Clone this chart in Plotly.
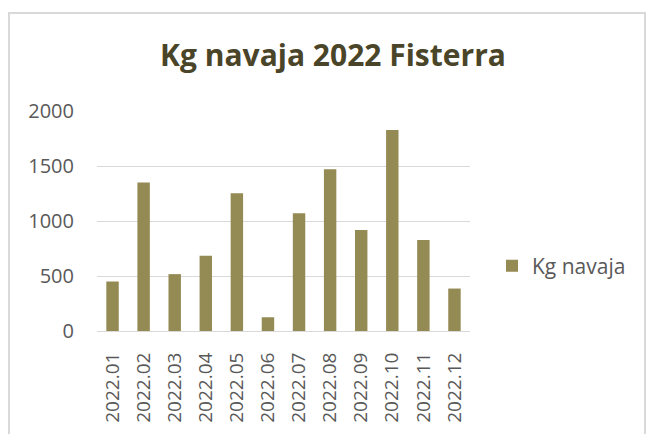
import plotly.graph_objects as go

months = ["2022.01", "2022.02", "2022.03", "2022.04", "2022.05", "2022.06",
          "2022.07", "2022.08", "2022.09", "2022.10", "2022.11", "2022.12"]
kg_navaja = [450, 1349, 517, 684, 1252, 125, 1070, 1471, 918, 1827, 827, 386]
y_ticks = [0, 500, 1000, 1500, 2000]
series_name = "Kg navaja"
title_text = "Kg navaja 2022 Fisterra"

OFF = 8  # browser body margin
W, H = 654 - 2 * OFF, 442 - 2 * OFF
L, R, T, B = 97 - OFF, 470 - OFF, 111 - OFF, 331 - OFF  # plot area in figure pixels


def px(xp):  # screen x -> paper
    return (xp - OFF - L) / (R - L)


def py(yp):  # screen y -> paper
    return (B - (yp - OFF)) / (B - T)


FONT = "Open Sans"
GRAY = "#595959"

fig = go.Figure()
fig.add_trace(go.Bar(
    x=months, y=kg_navaja, name=series_name,
    marker=dict(color="#948A54", line=dict(width=0)),
))

fig.update_layout(
    width=W, height=H,
    margin=dict(l=L, r=W - R, t=T, b=H - B, autoexpand=False),
    paper_bgcolor="white", plot_bgcolor="white",
    bargap=0.6,
    showlegend=True,
    title=dict(text="<b>" + title_text + "</b>", x=px(333), xref="paper", xanchor="center",
               y=1 - (55 - OFF) / H, yanchor="middle",
               font=dict(family=FONT, size=30, color="#4A4528")),
    legend=dict(x=px(492), y=py(266), xanchor="left", yanchor="middle",
                font=dict(family=FONT, size=21, color=GRAY),
                itemwidth=30, bgcolor="rgba(0,0,0,0)"),
    xaxis=dict(tickangle=-90, tickfont=dict(family=FONT, size=19, color=GRAY),
               showgrid=False, showline=True, linecolor="#D9D9D9", linewidth=1,
               ticks="", ticklabelstandoff=13),
    yaxis=dict(range=[0, 2000], tickvals=y_ticks,
               tickfont=dict(family=FONT, size=20, color=GRAY),
               showgrid=True, gridcolor="#D9D9D9", gridwidth=1,
               zeroline=False, showline=False, ticks="", ticklabelstandoff=22),
    shapes=[dict(type="rect", xref="paper", yref="paper",
                 x0=px(9), x1=px(645), y0=py(470), y1=py(13),
                 line=dict(color="#D9D9D9", width=2), layer="below")],
)

fig.write_html("out.html")
